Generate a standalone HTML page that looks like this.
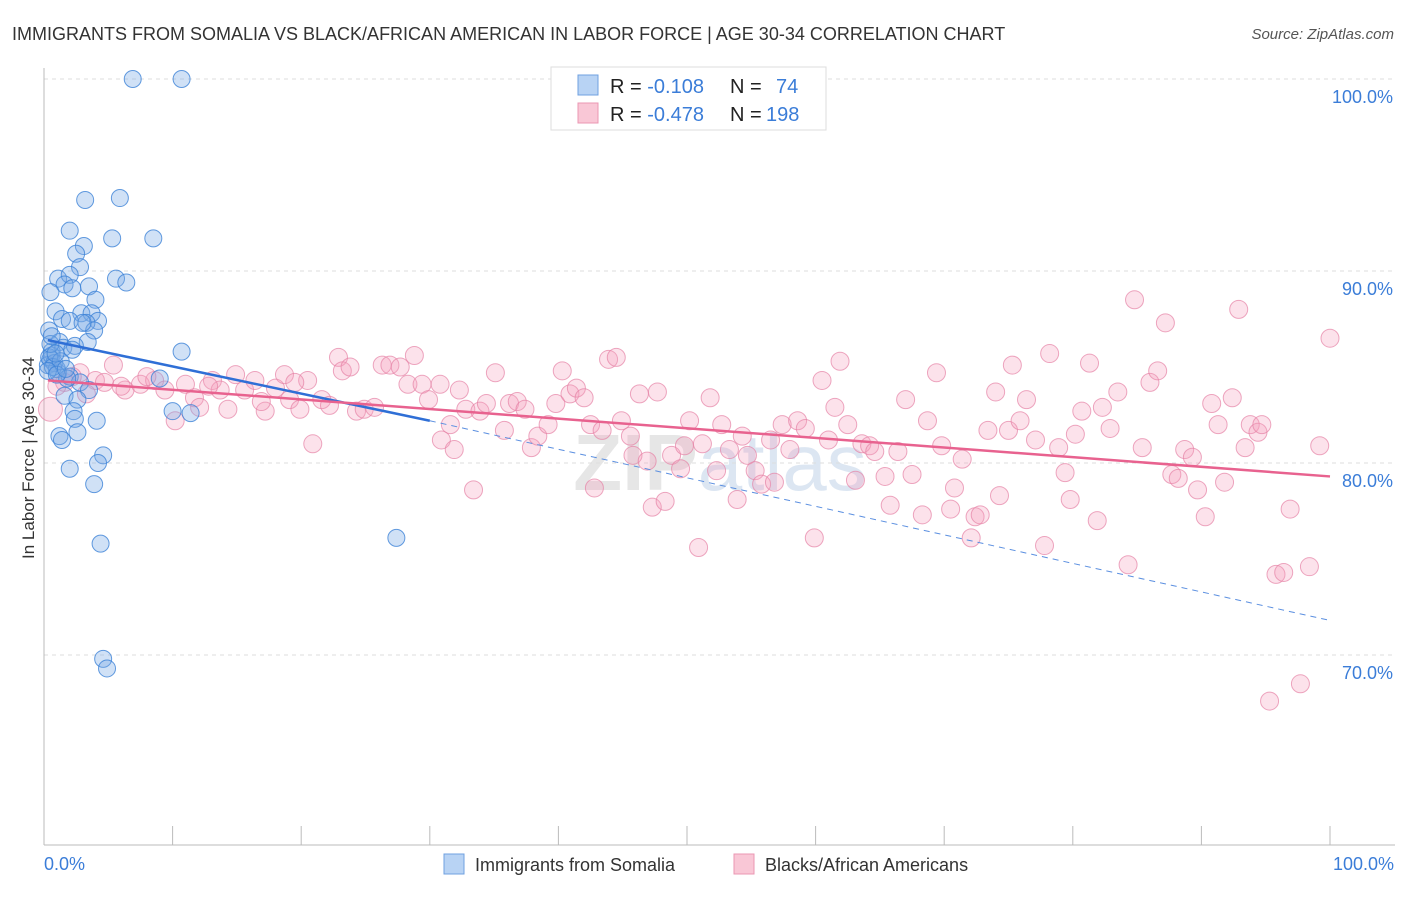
<!DOCTYPE html>
<html><head><meta charset="utf-8"><style>
body{margin:0;background:#fff;font-family:"Liberation Sans",sans-serif;}
svg text{font-family:"Liberation Sans",sans-serif;}
</style></head><body>
<svg id="chart" width="1406" height="892" xmlns="http://www.w3.org/2000/svg">
<text x="12" y="40" font-size="18" fill="#333">IMMIGRANTS FROM SOMALIA VS BLACK/AFRICAN AMERICAN IN LABOR FORCE | AGE 30-34 CORRELATION CHART</text>
<text x="1394" y="39" font-size="15" fill="#555" font-style="italic" text-anchor="end">Source: ZipAtlas.com</text>
<text x="720" y="490" font-size="80" fill="#e6e6e6" text-anchor="middle" font-weight="bold">ZIP<tspan fill="#dce6f2" font-weight="normal">atlas</tspan></text>
<g id="grid"></g>
<g id="pts"></g>
<g id="lines"></g>
<text transform="translate(34,458) rotate(-90)" font-size="17" fill="#333" text-anchor="middle">In Labor Force | Age 30-34</text>
<text x="44" y="870" font-size="18" fill="#3b7dd8">0.0%</text>
<text x="1394" y="870" font-size="18" fill="#3b7dd8" text-anchor="end">100.0%</text>
<g>
<rect x="551" y="67" width="275" height="63" fill="#fff" stroke="#ddd"/>
<rect x="578" y="75" width="20" height="20" fill="#b8d3f4" stroke="#6fa0e0"/>
<rect x="578" y="103" width="20" height="20" fill="#f9c7d6" stroke="#eb97b3"/>
<text x="610" y="93" font-size="20" fill="#222">R = <tspan fill="#3b7dd8">-0.108</tspan><tspan x="730">N = </tspan><tspan x="776" fill="#3b7dd8">74</tspan></text>
<text x="610" y="121" font-size="20" fill="#222">R = <tspan fill="#3b7dd8">-0.478</tspan><tspan x="730">N = </tspan><tspan x="766" fill="#3b7dd8">198</tspan></text>
</g>
<g>
<rect x="444" y="854" width="20" height="20" fill="#b8d3f4" stroke="#6fa0e0"/>
<text x="475" y="871" font-size="18" fill="#333">Immigrants from Somalia</text>
<rect x="734" y="854" width="20" height="20" fill="#f9c7d6" stroke="#eb97b3"/>
<text x="765" y="871" font-size="18" fill="#333">Blacks/African Americans</text>
</g>
</svg>
<script>
const yTicks=[100,90,80,70];
const yTickLabels=["100.0%","90.0%","80.0%","70.0%"];
const xTicks=[0,10,20,30,40,50,60,70,80,90,100];
const blueX=[6.9,10.7,3.2,5.9,2.0,5.3,8.5,3.1,2.5,2.8,1.1,2.0,5.6,6.4,1.6,2.2,3.5,0.5,4.0,0.9,2.9,3.7,1.4,2.0,4.2,3.3,0.4,3.9,3.4,1.2,0.6,10.7,0.5,0.3,1.1,2.0,9.0,2.8,3.5,1.6,2.6,10.0,11.4,2.3,2.4,4.1,2.6,1.2,1.4,4.6,4.2,2.0,3.9,27.4,4.4,4.6,4.9,0.6,0.8,1.0,0.4,1.5,0.7,1.8,0.5,1.3,2.4,3.0,0.9,0.3,1.0,0.6,2.2,1.7];
const blueY=[100,100,93.7,93.8,92.1,91.7,91.7,91.3,90.9,90.2,89.6,89.8,89.6,89.4,89.3,89.1,89.2,88.9,88.5,87.9,87.8,87.8,87.5,87.4,87.4,87.3,86.9,86.9,86.3,86.3,85.8,85.8,85.4,85.1,84.7,84.5,84.4,84.2,83.8,83.5,83.3,82.7,82.6,82.7,82.3,82.2,81.6,81.4,81.2,80.4,80.0,79.7,78.9,76.1,75.8,69.8,69.3,85.6,85.2,84.9,85.5,86.0,85.0,84.4,86.2,85.3,86.1,87.3,85.7,84.8,84.6,86.6,85.9,84.9];
const pinkX=[0.5,1.6,2.8,4.0,5.4,4.7,6.3,7.5,8.6,9.4,10.2,11.0,11.7,12.1,13.1,13.7,14.3,14.9,15.6,16.4,17.2,18.0,18.7,19.1,19.9,20.5,20.9,21.6,22.2,22.9,23.2,23.8,24.3,24.9,25.7,26.3,26.9,27.7,28.3,28.8,29.4,29.9,30.8,30.9,31.6,31.9,32.3,32.8,33.4,33.9,34.4,35.1,35.8,36.2,36.8,37.4,37.9,38.4,39.2,39.8,40.3,40.9,41.4,42.0,42.5,42.8,43.4,43.9,44.5,44.9,45.6,45.8,46.3,46.9,47.3,47.7,48.3,48.8,49.5,49.8,50.2,50.9,51.2,51.8,52.3,52.7,53.3,53.9,54.3,54.7,55.3,55.8,56.5,56.8,57.4,58.0,58.6,59.2,59.9,60.5,61.0,61.5,61.9,62.5,63.1,63.6,64.2,64.6,65.4,65.8,66.4,67.0,67.5,68.3,68.7,69.4,69.8,70.5,70.8,71.4,72.1,72.4,72.8,73.4,74.0,74.3,75.0,75.3,75.9,76.4,77.1,77.8,78.2,78.9,79.4,79.8,80.2,80.7,81.3,81.9,82.3,82.9,83.5,84.3,84.8,85.4,86.0,86.6,87.2,87.7,88.2,88.7,89.3,89.7,90.3,90.8,91.3,91.8,92.4,92.9,93.4,93.8,94.4,94.7,95.3,95.8,96.4,96.9,97.7,98.4,99.2,100,1.0,2.2,3.3,6.0,8.0,12.8,16.9,19.5];
const pinkY=[82.8,84.2,84.7,84.3,85.1,84.2,83.8,84.1,84.3,83.8,82.2,84.1,83.4,82.9,84.3,83.8,82.8,84.6,83.8,84.3,82.7,83.9,84.6,83.3,82.8,84.3,81.0,83.3,83.0,85.5,84.8,85.0,82.7,82.8,82.9,85.1,85.1,85.0,84.1,85.6,84.1,83.3,84.1,81.2,82.0,80.7,83.8,82.8,78.6,82.7,83.1,84.7,81.7,83.1,83.2,82.8,80.8,81.4,82.0,83.1,84.8,83.6,83.9,83.4,82.0,78.7,81.7,85.4,85.5,82.2,81.4,80.4,83.6,80.1,77.7,83.7,78.0,80.4,79.7,80.9,82.2,75.6,81.0,83.4,79.6,82.0,80.7,78.1,81.4,80.4,79.6,78.9,81.2,79.0,82.0,80.7,82.2,81.8,76.1,84.3,81.2,82.9,85.3,82.0,79.1,81.0,80.9,80.6,79.3,77.8,80.6,83.3,79.4,77.3,82.2,84.7,80.9,77.6,78.7,80.2,76.1,77.2,77.3,81.7,83.7,78.3,81.7,85.1,82.2,83.3,81.2,75.7,85.7,80.8,79.5,78.1,81.5,82.7,85.2,77.0,82.9,81.8,83.7,74.7,88.5,80.8,84.2,84.8,87.3,79.4,79.2,80.7,80.3,78.6,77.2,83.1,82.0,79.0,83.4,88.0,80.8,82.0,81.6,82.0,67.6,74.2,74.3,77.6,68.5,74.6,80.9,86.5,84.0,84.5,83.6,84.0,84.5,84.0,83.2,84.2];
const blueTrendX=[0.3,30,100];
const blueTrendY=[86.4,82.2,71.8];
const pinkTrendX=[0.3,100];
const pinkTrendY=[84.3,79.3];

const X0=44,X1=1330,Y100=79,PXPCT=19.2;
const sx=v=>X0+(X1-X0)*v/100;
const sy=v=>Y100+(100-v)*PXPCT;
const NS="http://www.w3.org/2000/svg";
function mk(tag,attrs,parent){const e=document.createElementNS(NS,tag);for(const k in attrs)e.setAttribute(k,attrs[k]);parent.appendChild(e);return e;}
const grid=document.getElementById('grid');
yTicks.forEach((t,i)=>{
 const l=mk('line',{x1:44,x2:1395,y1:sy(t),y2:sy(t),stroke:'#ddd','stroke-dasharray':'4,4'},grid);
 
 
 const tx=mk('text',{x:1393,y:sy(t)+24,'font-size':18,fill:'#3b7dd8','text-anchor':'end'},grid);
 tx.textContent=yTickLabels[i];
 
 
});
const ax=mk('line',{x1:44,x2:44,y1:68,y2:845,stroke:'#bbb'},grid);


const bx=mk('line',{x1:44,x2:1395,y1:845,y2:845,stroke:'#bbb'},grid);


xTicks.forEach(t=>{
 const l=mk('line',{x1:sx(t),x2:sx(t),y1:826,y2:845,stroke:'#bbb'},grid);
 
 
});
const pts=document.getElementById('pts');
pinkX.forEach((v,i)=>{
 const c=mk('circle',{cx:sx(v),cy:sy(pinkY[i]),r:i===0?12:9,fill:'rgba(244,160,188,0.3)',stroke:'rgba(230,130,165,0.7)','stroke-width':1},pts);
 
 
});
blueX.forEach((v,i)=>{
 const c=mk('circle',{cx:sx(v),cy:sy(blueY[i]),r:8.5,fill:'rgba(120,170,230,0.35)',stroke:'rgba(60,130,215,0.8)','stroke-width':1},pts);
 
 
});
const lines=document.getElementById('lines');
const bl=mk('line',{x1:sx(blueTrendX[0]),y1:sy(blueTrendY[0]),x2:sx(blueTrendX[1]),y2:sy(blueTrendY[1]),stroke:'#2f6fd6','stroke-width':2.5},lines);


const bd=mk('line',{x1:sx(blueTrendX[1]),y1:sy(blueTrendY[1]),x2:sx(blueTrendX[2]),y2:sy(blueTrendY[2]),stroke:'#5b8fe0','stroke-width':1,'stroke-dasharray':'6,5'},lines);


const pl=mk('line',{x1:sx(pinkTrendX[0]),y1:sy(pinkTrendY[0]),x2:sx(pinkTrendX[1]),y2:sy(pinkTrendY[1]),stroke:'#e8628f','stroke-width':2.5},lines);


</script>
</body></html>
